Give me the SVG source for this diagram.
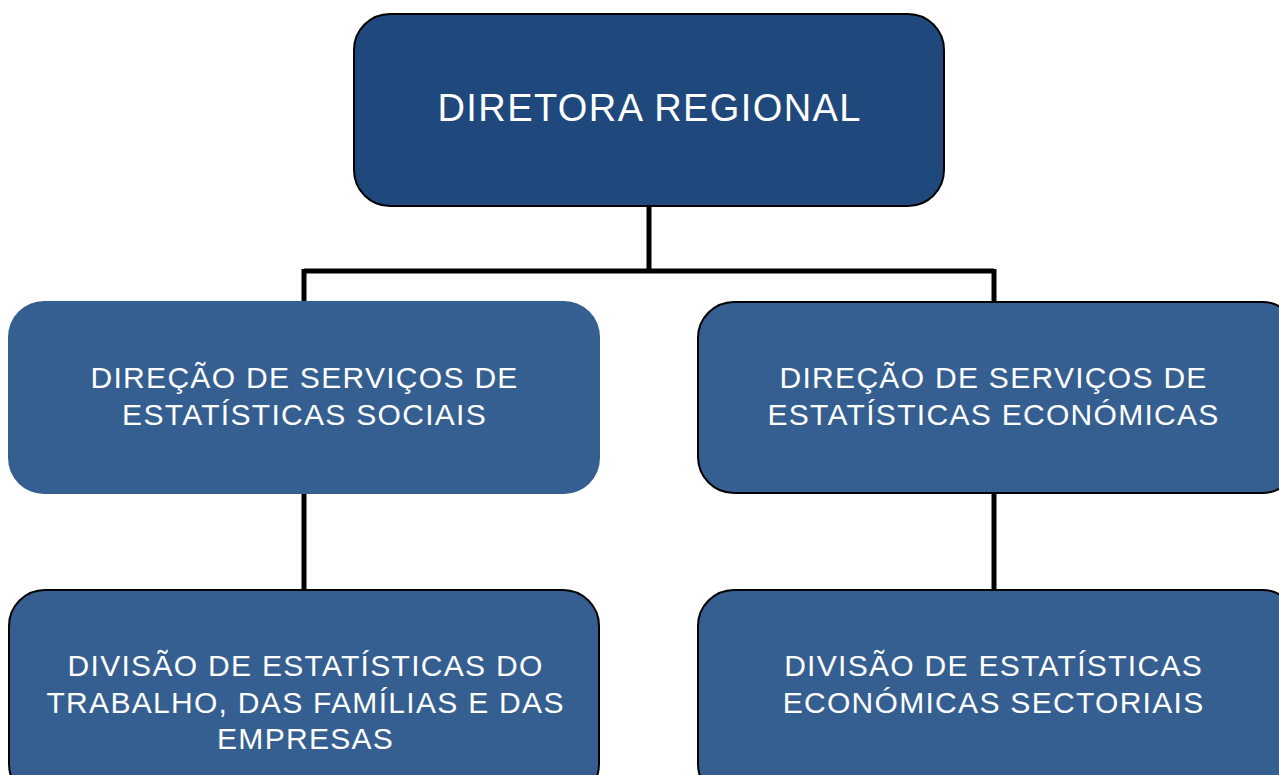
<svg xmlns="http://www.w3.org/2000/svg" width="1279" height="775" viewBox="0 0 1279 775">
<style>
.box{fill:#365f91;stroke:#000;stroke-width:2}
.top{fill:#1f497d;stroke:#000;stroke-width:2}
.t{font-family:"Liberation Sans",Arial,sans-serif;fill:#fff;text-anchor:middle;font-size:30px;letter-spacing:1.3px}
.big{font-size:38px;letter-spacing:1.4px}
.conn{stroke:#000;stroke-width:5;fill:none}
</style>
<rect width="1279" height="775" fill="#fff"/>
<g id="connectors">
<path class="conn" d="M649 206V271M304 271H994M304 269V301M994 269V301M304 494V589M994 494V589"/>
</g>
<g id="n1">
<rect class="top" x="354" y="14" width="590" height="192" rx="36"/>
<text class="t big" x="649.7" y="121">DIRETORA REGIONAL</text>
</g>
<g id="n2">
<rect class="box" x="8" y="301" width="592" height="193" rx="36" style="stroke:none"/>
<text class="t" x="304.6" y="388">DIREÇÃO DE SERVIÇOS DE</text>
<text class="t" x="304.6" y="425">ESTATÍSTICAS SOCIAIS</text>
</g>
<g id="n3">
<rect class="box" x="698" y="302" width="600" height="191" rx="36"/>
<text class="t" x="993.6" y="388">DIREÇÃO DE SERVIÇOS DE</text>
<text class="t" x="993.6" y="425">ESTATÍSTICAS ECONÓMICAS</text>
</g>
<g id="n4">
<rect class="box" x="9" y="590" width="590" height="210" rx="36"/>
<text class="t" x="305.6" y="676">DIVISÃO DE ESTATÍSTICAS DO</text>
<text class="t" x="305.6" y="713">TRABALHO, DAS FAMÍLIAS E DAS</text>
<text class="t" x="305.6" y="749">EMPRESAS</text>
</g>
<g id="n5">
<rect class="box" x="698" y="590" width="600" height="210" rx="36"/>
<text class="t" x="993.6" y="676">DIVISÃO DE ESTATÍSTICAS</text>
<text class="t" x="993.6" y="713">ECONÓMICAS SECTORIAIS</text>
</g>
</svg>
